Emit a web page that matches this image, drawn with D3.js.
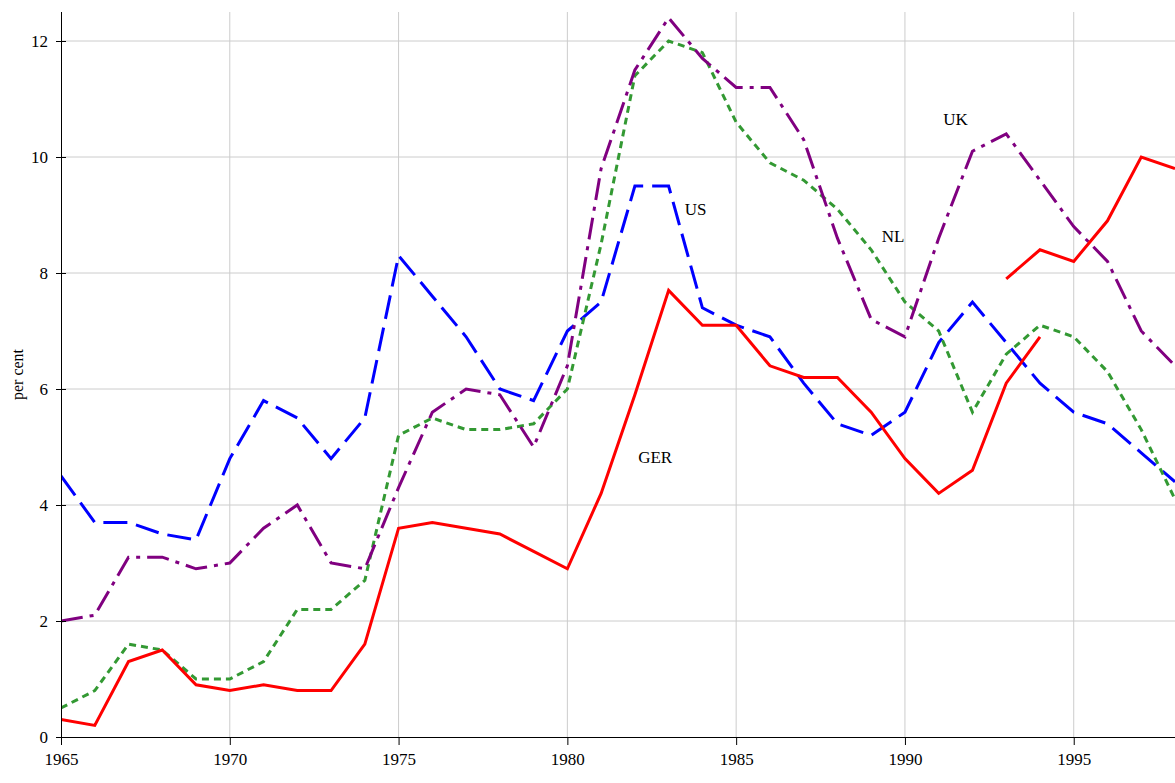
<!DOCTYPE html>
<html>
<head>
<meta charset="utf-8">
<script src="https://cdn.jsdelivr.net/npm/d3@7"></script>
<style>
    html, body { margin: 0; padding: 0; background: #fff; }
    svg { display: block; font-family: "Liberation Serif", "DejaVu Serif", serif; }
</style>
</head>
<body>
<div id="chart"></div>
<script>
(function () {
    "use strict";

    // data (per cent)
    var years = d3.range(1965, 1999);
    var gerYears = d3.range(1965, 1995);
    var gerUnifiedYears = d3.range(1993, 1999);

    var usValues = [4.5, 3.7, 3.7, 3.5, 3.4, 4.8, 5.8, 5.5, 4.8, 5.5,
        8.3, 7.6, 6.9, 6.0, 5.8, 7.0, 7.5, 9.5, 9.5, 7.4,
        7.1, 6.9, 6.1, 5.4, 5.2, 5.6, 6.8, 7.5, 6.8, 6.1,
        5.6, 5.4, 4.9, 4.4];
    var nlValues = [0.5, 0.8, 1.6, 1.5, 1.0, 1.0, 1.3, 2.2, 2.2, 2.7,
        5.2, 5.5, 5.3, 5.3, 5.4, 6.0, 8.5, 11.4, 12.0, 11.8,
        10.6, 9.9, 9.6, 9.1, 8.4, 7.5, 7.0, 5.6, 6.6, 7.1,
        6.9, 6.3, 5.3, 4.1];
    var ukValues = [2.0, 2.1, 3.1, 3.1, 2.9, 3.0, 3.6, 4.0, 3.0, 2.9,
        4.3, 5.6, 6.0, 5.9, 5.0, 6.4, 9.8, 11.5, 12.4, 11.7,
        11.2, 11.2, 10.3, 8.6, 7.2, 6.9, 8.6, 10.1, 10.4, 9.6,
        8.8, 8.2, 7.0, 6.4];
    var gerValues = [0.3, 0.2, 1.3, 1.5, 0.9, 0.8, 0.9, 0.8, 0.8, 1.6,
        3.6, 3.7, 3.6, 3.5, 3.2, 2.9, 4.2, 5.9, 7.7, 7.1,
        7.1, 6.4, 6.2, 6.2, 5.6, 4.8, 4.2, 4.6, 6.1, 6.9];
    var gerUnifiedValues = [7.9, 8.4, 8.2, 8.9, 10.0, 9.8];

    var xTicks = [1965, 1970, 1975, 1980, 1985, 1990, 1995];
    var yTicks = [0, 2, 4, 6, 8, 10, 12];

    var series = [
        { name: "US", xs: years, ys: usValues, color: "#0000ff", dash: "24,9" },
        { name: "NL", xs: years, ys: nlValues, color: "#339933", dash: "7,5" },
        { name: "UK", xs: years, ys: ukValues, color: "#800080", dash: "22,7,4,7" },
        { name: "GER", xs: gerYears, ys: gerValues, color: "#ff0000", dash: null },
        { name: "GER", xs: gerUnifiedYears, ys: gerUnifiedValues, color: "#ff0000", dash: null }
    ];

    // label anchors in data units
    var labels = [
        { text: "US", year: 1983.8, value: 9.0 },
        { text: "GER", year: 1982.6, value: 4.72 },
        { text: "NL", year: 1989.65, value: 8.53 },
        { text: "UK", year: 1991.5, value: 10.55 }
    ];

    var width = 1175, height = 783;
    var margin = { top: 12, right: 0, bottom: 46, left: 61 };

    var svg = d3.select("#chart").append("svg")
        .attr("width", width)
        .attr("height", height);

    var x = d3.scaleLinear().domain([1965, 1998]).range([margin.left, width - margin.right]);
    var y = d3.scaleLinear().domain([0, 12.5]).range([height - margin.bottom, margin.top]);

    svg.append("defs").append("clipPath").attr("id", "plot")
        .append("rect")
        .attr("x", margin.left)
        .attr("y", 0)
        .attr("width", width - margin.left)
        .attr("height", height - margin.bottom);

    // grid
    var grid = svg.append("g").attr("class", "grid");
    grid.selectAll(".vgrid")
        .data(xTicks.slice(1))
        .enter().append("line")
        .attr("x1", function (d) { return x(d); })
        .attr("x2", function (d) { return x(d); })
        .attr("y1", y(12.5))
        .attr("y2", y(0))
        .attr("stroke", "#cccccc")
        .attr("stroke-width", 1);
    grid.selectAll(".hgrid")
        .data(yTicks.slice(1))
        .enter().append("line")
        .attr("x1", x(1965))
        .attr("x2", width)
        .attr("y1", function (d) { return y(d); })
        .attr("y2", function (d) { return y(d); })
        .attr("stroke", "#cccccc")
        .attr("stroke-width", 1);

    // lines
    var line = d3.line()
        .x(function (d) { return x(d[0]); })
        .y(function (d) { return y(d[1]); });

    svg.append("g").attr("clip-path", "url(#plot)")
        .selectAll("path")
        .data(series)
        .enter().append("path")
        .attr("d", function (s) { return line(d3.zip(s.xs, s.ys)); })
        .attr("fill", "none")
        .attr("stroke", function (s) { return s.color; })
        .attr("stroke-width", 3)
        .attr("stroke-linejoin", "miter")
        .attr("stroke-dasharray", function (s) { return s.dash; });

    // axes
    var xAxis = svg.append("g")
        .attr("transform", "translate(0," + y(0) + ")")
        .call(d3.axisBottom(x).tickValues(xTicks).tickFormat(d3.format("d")).tickSizeInner(8).tickSizeOuter(0).tickPadding(8));
    xAxis.select(".domain").attr("d", "M" + x(1965) + ",0.5H" + width);
    xAxis.selectAll("text").attr("font-size", "17px").attr("fill", "#000").attr("font-family", "Liberation Serif, serif");

    var yAxis = svg.append("g")
        .attr("transform", "translate(" + x(1965) + ",0)")
        .call(d3.axisLeft(y).tickValues(yTicks).tickSizeInner(5).tickSizeOuter(0).tickPadding(8));
    yAxis.select(".domain").attr("d", "M0.5," + y(12.5) + "V" + y(0));
    yAxis.selectAll(".tick line").attr("x1", 5);
    yAxis.selectAll("text").attr("font-size", "17px").attr("fill", "#000").attr("font-family", "Liberation Serif, serif");

    svg.append("text")
        .attr("transform", "translate(23," + ((y(0) + y(12.5)) / 2) + ") rotate(-90)")
        .attr("text-anchor", "middle")
        .attr("font-size", "16px")
        .text("per cent");

    svg.selectAll(".series-label")
        .data(labels)
        .enter().append("text")
        .attr("class", "series-label")
        .attr("x", function (d) { return x(d.year); })
        .attr("y", function (d) { return y(d.value); })
        .attr("text-anchor", "middle")
        .attr("font-size", "17px")
        .attr("fill", "#000")
        .text(function (d) { return d.text; });
})();
</script>
</body>
</html>
